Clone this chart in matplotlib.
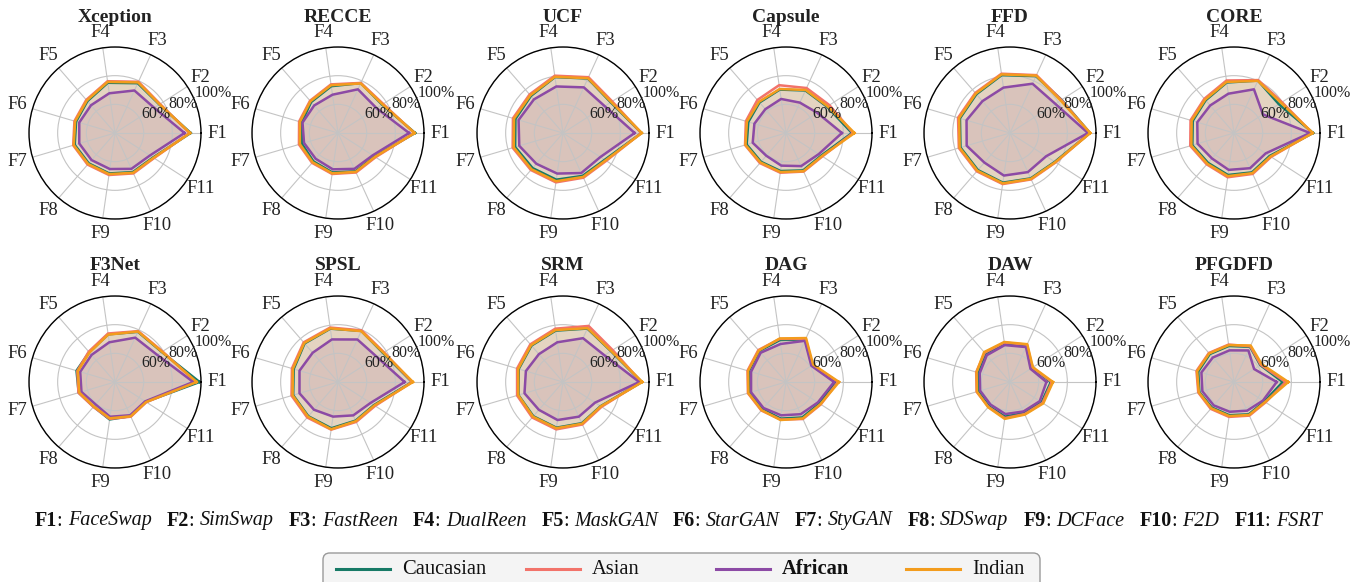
import numpy as np
import matplotlib
matplotlib.use('Agg')
import matplotlib.pyplot as plt
from matplotlib.lines import Line2D
from matplotlib.patches import FancyBboxPatch

plt.rcParams['font.family'] = ['Liberation Serif', 'DejaVu Serif']

# axes of every radar
labels = ['F1', 'F2', 'F3', 'F4', 'F5', 'F6', 'F7', 'F8', 'F9', 'F10', 'F11']
full_names = ['FaceSwap', 'SimSwap', 'FastReen', 'DualReen', 'MaskGAN', 'StarGAN',
              'StyGAN', 'SDSwap', 'DCFace', 'F2D', 'FSRT']
groups = ['Caucasian', 'Asian', 'African', 'Indian']
colors = ['#177a66', '#f2736a', '#8c4aa5', '#f39c1d']

models = ['Xception', 'RECCE', 'UCF', 'Capsule', 'FFD', 'CORE',
          'F3Net', 'SPSL', 'SRM', 'DAG', 'DAW', 'PFGDFD']

# per model: rows = Caucasian, Asian, African, Indian (values in %)
xception = [[92.8, 76.8, 78.2, 75.4, 69.4, 68.3, 69.3, 68.0, 68.5, 70.0, 71.6],
            [92.0, 77.4, 79.3, 76.5, 70.6, 69.5, 70.4, 69.2, 69.6, 71.0, 72.4],
            [88.5, 72.5, 72.6, 68.0, 65.6, 66.0, 66.0, 65.0, 65.4, 67.5, 69.0],
            [92.4, 77.0, 78.8, 76.0, 70.0, 69.0, 70.0, 68.6, 69.0, 70.5, 72.0]]
recce = [[93.8, 76.6, 78.3, 73.0, 68.6, 66.4, 66.3, 66.2, 67.8, 69.4, 70.3],
         [93.2, 77.5, 78.4, 74.3, 69.8, 68.3, 68.4, 67.6, 68.9, 70.3, 71.2],
         [89.6, 72.0, 73.5, 67.0, 65.4, 65.8, 64.7, 63.8, 65.6, 67.5, 68.8],
         [93.5, 77.0, 78.0, 73.7, 69.3, 67.7, 67.7, 67.0, 68.4, 69.8, 70.7]]
ucf = [[94.8, 79.6, 81.8, 79.4, 74.2, 74.6, 74.8, 72.4, 72.9, 72.9, 74.6],
       [94.6, 80.8, 82.8, 80.4, 75.6, 76.4, 76.6, 74.2, 74.8, 74.3, 75.9],
       [90.0, 74.6, 75.0, 72.8, 71.0, 72.3, 71.8, 68.4, 68.6, 70.7, 71.0],
       [95.0, 80.0, 82.0, 79.6, 74.8, 75.6, 75.8, 73.5, 74.0, 73.7, 75.3]]
capsule = [[86.0, 74.0, 72.6, 70.6, 68.2, 67.4, 68.6, 66.6, 66.8, 68.7, 69.2],
           [86.8, 76.0, 74.5, 73.7, 70.5, 69.2, 69.8, 67.8, 68.0, 69.6, 70.2],
           [79.0, 66.0, 63.3, 64.0, 62.0, 63.0, 64.2, 61.0, 63.0, 65.4, 67.2],
           [87.8, 74.5, 73.0, 71.0, 68.8, 68.4, 69.5, 67.2, 67.5, 69.3, 69.8]]
ffd = [[95.8, 82.8, 83.6, 80.8, 75.8, 76.4, 76.0, 74.2, 75.0, 74.8, 77.2],
       [95.6, 82.6, 84.4, 81.8, 77.0, 77.8, 77.2, 75.4, 76.0, 75.6, 77.9],
       [94.4, 77.6, 77.8, 72.0, 69.4, 71.6, 71.5, 67.3, 70.0, 70.0, 70.0],
       [96.0, 82.0, 84.0, 81.3, 76.4, 77.0, 76.6, 74.8, 75.5, 75.2, 77.6]]
core = [[95.2, 77.2, 80.2, 75.6, 70.2, 70.0, 70.3, 67.6, 69.6, 70.2, 69.6],
        [94.6, 79.8, 80.6, 77.0, 71.6, 71.6, 71.8, 69.0, 71.2, 71.4, 70.8],
        [93.0, 64.0, 73.5, 67.7, 65.4, 66.7, 66.5, 63.5, 66.0, 67.0, 66.3],
        [95.0, 79.0, 80.0, 76.0, 70.8, 70.8, 71.0, 68.4, 70.4, 70.8, 70.3]]
f3net = [[99.0, 78.8, 78.5, 73.6, 67.5, 68.0, 66.4, 62.8, 66.4, 66.2, 65.6],
         [96.4, 79.4, 79.0, 74.2, 68.0, 67.4, 66.6, 63.0, 66.0, 66.6, 66.0],
         [94.6, 75.0, 74.0, 68.0, 65.0, 65.3, 64.4, 60.7, 64.5, 65.5, 65.0],
         [97.0, 79.0, 78.7, 73.4, 67.2, 67.0, 66.0, 62.6, 65.6, 66.3, 65.8]]
spsl = [[91.6, 77.4, 79.2, 77.6, 75.6, 72.2, 72.6, 71.6, 72.6, 69.6, 69.8],
        [91.8, 78.2, 79.6, 78.4, 76.6, 73.5, 73.8, 72.8, 73.6, 70.6, 70.8],
        [86.5, 72.3, 72.6, 70.0, 67.0, 68.0, 68.0, 65.6, 64.4, 65.6, 67.0],
        [92.3, 77.8, 79.0, 77.8, 76.0, 72.8, 73.0, 72.0, 73.3, 70.0, 70.2]]
srm = [[95.0, 79.8, 81.0, 76.2, 73.6, 72.2, 72.4, 71.6, 72.2, 71.6, 71.2],
       [94.6, 81.2, 83.0, 77.6, 74.8, 73.4, 73.4, 72.8, 73.4, 72.6, 72.0],
       [93.2, 74.4, 73.6, 68.0, 65.7, 67.0, 68.0, 65.7, 66.8, 66.6, 66.6],
       [95.3, 80.0, 81.3, 76.6, 74.0, 72.6, 72.6, 72.0, 72.6, 72.0, 71.4]]
dag = [[74.6, 61.6, 72.6, 69.6, 68.6, 67.0, 66.8, 65.2, 65.8, 67.2, 67.8],
       [76.2, 62.0, 73.0, 70.4, 69.5, 68.0, 67.7, 66.3, 66.5, 68.4, 68.9],
       [73.5, 61.0, 71.6, 66.8, 67.0, 65.4, 65.4, 64.0, 63.5, 64.7, 66.4],
       [77.0, 62.5, 73.7, 70.7, 69.0, 67.6, 67.4, 66.0, 66.8, 68.0, 68.6]]
daw = [[68.5, 58.2, 68.2, 67.2, 66.2, 63.4, 63.2, 62.4, 64.4, 63.8, 66.2],
       [69.2, 58.6, 68.6, 67.8, 67.0, 64.6, 64.3, 63.0, 65.4, 64.6, 67.0],
       [65.4, 57.0, 66.8, 66.0, 64.7, 62.0, 61.7, 60.8, 62.6, 62.6, 64.7],
       [70.0, 59.0, 69.0, 68.2, 67.6, 64.3, 64.0, 63.3, 66.0, 65.0, 67.6]]
pfgdfd = [[74.0, 61.8, 67.0, 65.4, 65.8, 66.0, 65.2, 63.6, 63.4, 64.8, 65.2],
          [76.0, 62.2, 67.4, 66.4, 66.8, 67.3, 66.0, 64.8, 64.6, 65.8, 66.2],
          [69.8, 56.7, 64.2, 62.3, 62.6, 63.7, 63.0, 61.6, 61.0, 62.0, 64.0],
          [77.9, 63.0, 68.0, 66.0, 66.4, 66.8, 65.6, 64.2, 64.0, 65.3, 65.8]]

all_scores = [xception, recce, ucf, capsule, ffd, core,
              f3net, spsl, srm, dag, daw, pfgdfd]

W, H = 1364, 582
fig = plt.figure(figsize=(W / 100, H / 100), dpi=100)

angles = np.linspace(0, 2 * np.pi, len(labels), endpoint=False)
closed = np.append(angles, angles[0])

R = 86  # radar radius in px
col_x = [115, 338, 563, 786, 1010, 1234]
row_y = [133, 382]
title_y = [17, 266]

for i, (name, scores) in enumerate(zip(models, all_scores)):
    cx, cy = col_x[i % 6], row_y[i // 6]
    ax = fig.add_axes([(cx - R) / W, 1 - (cy + R) / H, 2 * R / W, 2 * R / H],
                      projection='polar')
    for vals, c in zip(scores, colors):
        v = np.append(vals, vals[0])
        ax.plot(closed, v, color=c, linewidth=1.8)
        ax.fill(closed, v, color=c, alpha=0.13)
    ax.set_ylim(40, 100)
    ax.set_yticks([60, 80, 100])
    ax.set_yticklabels([])
    ax.set_xticks(angles)
    ax.set_xticklabels(labels, fontsize=13.5, color='#222222')
    ax.tick_params(axis='x', pad=1)
    ax.grid(color='#c4c4c4', linewidth=0.8)
    ax.spines['polar'].set_linewidth(1.0)
    for r in (60, 80, 100):
        ax.text(np.deg2rad(22), r, f'{r}%', ha='left', va='bottom',
                fontsize=11.5, color='#222222')
    fig.text(cx / W, 1 - title_y[i // 6] / H, name, ha='center', va='center',
             fontsize=14, fontweight='bold', color='#222222')

# bottom line of abbreviations, bold code + italic name
renderer = fig.canvas.get_renderer()
fs = 14.5
gap = 15
pieces = []
for k, (lab, nm) in enumerate(zip(labels, full_names)):
    pieces.append((lab, 'bold', 'normal'))
    pieces.append((': ', 'normal', 'normal'))
    pieces.append((nm, 'normal', 'italic'))
    if k < len(labels) - 1:
        pieces.append((None, None, None))

texts = []
total = 0
for s, wgt, sty in pieces:
    if s is None:
        texts.append(None)
        total += gap
        continue
    t = fig.text(0, 1 - 521 / H, s, fontsize=fs, fontweight=wgt, fontstyle=sty,
                 ha='left', va='center', color='#111111')
    w = t.get_window_extent(renderer).width
    texts.append((t, w))
    total += w

x = 678.5 - total / 2
for item in texts:
    if item is None:
        x += gap
        continue
    t, w = item
    t.set_x(x / W)
    x += w

# legend with equal-width columns (box runs off the bottom edge)
box = FancyBboxPatch((323 / W, -0.05), (1040 - 323) / W, 0.05 + (582 - 553) / H,
                     boxstyle='round,pad=0,rounding_size=0.005',
                     transform=fig.transFigure, facecolor='#f4f4f4',
                     edgecolor='#9a9a9a', linewidth=1.0, mutation_aspect=W / H)
fig.patches.append(box)
ly = 1 - 569 / H
for k, (g, c) in enumerate(zip(groups, colors)):
    x0 = 336 + 190 * k
    fig.add_artist(Line2D([x0 / W, (x0 + 54) / W], [ly, ly], color=c,
                          linewidth=2.2, transform=fig.transFigure))
    fig.text((x0 + 66) / W, ly, g, fontsize=14.8, ha='left', va='center',
             color='#111111', fontweight='bold' if g == 'African' else 'normal')

fig.savefig('out.png', dpi=100)
